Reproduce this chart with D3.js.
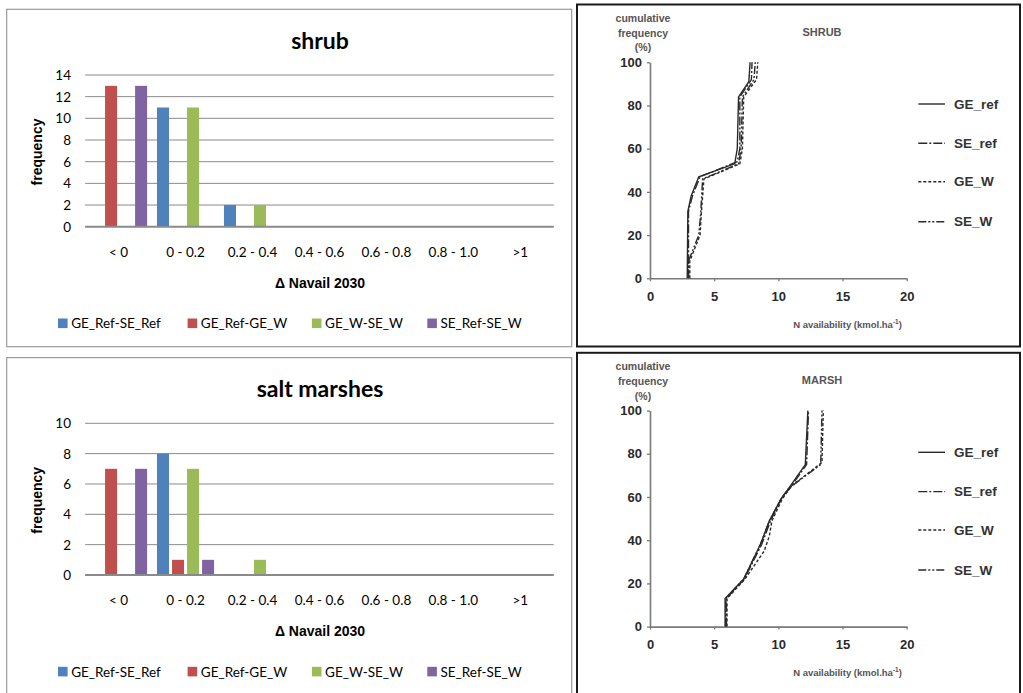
<!DOCTYPE html>
<html>
<head>
<meta charset="utf-8">
<script src="https://cdn.jsdelivr.net/npm/d3@7"></script>
<style>
  html, body { margin: 0; padding: 0; background: #fff; }
  svg { display: block; }
</style>
</head>
<body>
<svg id="chart" width="1023" height="693"></svg>
<script>
// ---------------- DATA ----------------
const categories = ["< 0", "0 - 0.2", "0.2 - 0.4", "0.4 - 0.6", "0.6 - 0.8", "0.8 - 1.0", ">1"];
const barSeriesNames = ["GE_Ref-SE_Ref", "GE_Ref-GE_W", "GE_W-SE_W", "SE_Ref-SE_W"];
const barSeriesColors = ["#4f81bd", "#c0504d", "#9bbb59", "#8064a2"];

// shrub frequencies
const shrubGErefSEref = [0, 11, 2, 0, 0, 0, 0];
const shrubGErefGEW   = [13, 0, 0, 0, 0, 0, 0];
const shrubGEWSEW     = [0, 11, 2, 0, 0, 0, 0];
const shrubSErefSEW   = [13, 0, 0, 0, 0, 0, 0];
const shrubYTicks = [0, 2, 4, 6, 8, 10, 12, 14];

// salt marsh frequencies
const marshGErefSEref = [0, 8, 0, 0, 0, 0, 0];
const marshGErefGEW   = [7, 1, 0, 0, 0, 0, 0];
const marshGEWSEW     = [0, 7, 1, 0, 0, 0, 0];
const marshSErefSEW   = [7, 1, 0, 0, 0, 0, 0];
const marshYTicks = [0, 2, 4, 6, 8, 10];

// cumulative frequency curves: [N availability, cumulative %]
const lineSeriesNames = ["GE_ref", "SE_ref", "GE_W", "SE_W"];
const lineDashes = ["none", "9,2,2,2", "3,2", "8,2,2,2,2,2"];
const cumXTicks = [0, 5, 10, 15, 20];
const cumYTicks = [0, 20, 40, 60, 80, 100];

const shrubGEref = [[2.9,0],[2.95,31],[3.2,38],[3.8,47],[6.6,53],[6.8,60],[6.9,84],[7.7,91],[7.8,100]];
const shrubSEref = [[3.0,0],[3.0,31],[3.3,38],[3.9,47],[6.8,54],[7.0,60],[7.0,84],[7.9,92],[7.95,100]];
const shrubGEW   = [[3.1,0],[3.1,8],[3.5,14],[3.9,20],[4.0,30],[4.2,46],[7.0,53],[7.2,60],[7.3,84],[8.3,92],[8.4,100]];
const shrubSEW   = [[3.0,0],[3.0,8],[3.4,14],[3.8,20],[3.95,30],[4.1,46],[6.9,53],[7.1,60],[7.2,84],[8.1,92],[8.2,100]];

const marshGEref = [[5.85,0],[5.85,13],[7.3,22],[8.6,38],[9.3,49],[10.2,59],[10.8,64],[12.1,75],[12.3,100]];
const marshSEref = [[5.95,0],[5.95,13],[7.35,22],[8.7,38],[9.4,49],[10.2,59],[10.9,64],[12.2,75],[12.35,100]];
const marshGEW   = [[6.0,0],[6.0,13],[7.4,22],[8.9,35],[9.3,42],[9.5,49],[10.3,59],[11.0,65],[13.4,76],[13.5,100]];
const marshSEW   = [[5.9,0],[5.9,13],[7.3,22],[8.6,38],[9.3,49],[10.2,59],[10.8,64],[13.3,75],[13.4,100]];

// ---------------- DRAW ----------------
const svg = d3.select("#chart");
const PANEL_DY = 348.3;

function barPanel(dy, title, yTicks, seriesValues, panelH) {
  const g = svg.append("g").attr("transform", `translate(0,${dy})`);
  g.append("rect").attr("x", 6.7).attr("y", 9.3).attr("width", 565).attr("height", panelH)
    .attr("fill", "#fff").attr("stroke", "#9a9a9a").attr("stroke-width", 1.2);

  g.append("text").attr("x", 320).attr("y", 39.5).attr("text-anchor", "middle")
    .attr("dominant-baseline", "central")
    .style("font", "bold 23px Lato").text(title);

  const yMax = yTicks[yTicks.length - 1];
  const y = d3.scaleLinear().domain([0, yMax]).range([226.7, 75]);
  const x0 = d3.scaleBand().domain(categories).range([85.1, 553.8]);
  const x1 = d3.scaleBand().domain(barSeriesNames).range([0, x0.bandwidth()])
    .paddingInner(0.2).paddingOuter(0.33);

  // gridlines
  g.append("g").selectAll("line").data(yTicks.filter(t => t > 0)).join("line")
    .attr("x1", 85.1).attr("x2", 553.8)
    .attr("y1", d => y(d)).attr("y2", d => y(d))
    .attr("stroke", "#8a8a8a").attr("stroke-width", 1);

  // y labels
  g.append("g").selectAll("text").data(yTicks).join("text")
    .attr("x", 71).attr("y", d => y(d)).attr("text-anchor", "end")
    .attr("dominant-baseline", "central")
    .style("font", "13.5px Lato").text(d => d);

  // bars
  const rows = [];
  seriesValues.forEach((vals, si) => vals.forEach((v, ci) => rows.push({s: barSeriesNames[si], c: categories[ci], v, col: barSeriesColors[si]})));
  g.append("g").selectAll("rect").data(rows.filter(r => r.v > 0)).join("rect")
    .attr("x", d => x0(d.c) + x1(d.s)).attr("width", x1.bandwidth())
    .attr("y", d => y(d.v)).attr("height", d => y(0) - y(d.v))
    .attr("fill", d => d.col);

  // baseline
  g.append("line").attr("x1", 85.1).attr("x2", 553.8).attr("y1", y(0)).attr("y2", y(0))
    .attr("stroke", "#8a8a8a").attr("stroke-width", 2);

  // category labels
  g.append("g").selectAll("text").data(categories).join("text")
    .attr("x", d => x0(d) + x0.bandwidth() / 2).attr("y", 252)
    .attr("text-anchor", "middle").attr("dominant-baseline", "central")
    .style("font", "13.5px Lato").text(d => d);

  // axis titles
  g.append("text").attr("transform", "translate(37,152) rotate(-90)")
    .attr("text-anchor", "middle").attr("dominant-baseline", "central")
    .style("font", "bold 14px 'Liberation Sans', Arial").text("frequency");
  g.append("text").attr("x", 320).attr("y", 283).attr("text-anchor", "middle")
    .attr("dominant-baseline", "central")
    .style("font", "bold 14px 'Liberation Sans', Arial").text("\u0394 Navail  2030");

  // legend
  const legX = [58, 187.6, 311.9, 427.3];
  const leg = g.append("g").selectAll("g").data(barSeriesNames).join("g")
    .attr("transform", (d, i) => `translate(${legX[i]},323.3)`);
  leg.append("rect").attr("x", 0).attr("y", -4.8).attr("width", 9.6).attr("height", 9.6)
    .attr("fill", (d, i) => barSeriesColors[i]);
  leg.append("text").attr("x", 13.2).attr("y", 0).attr("dominant-baseline", "central")
    .style("font", "13.5px Lato").text(d => d);
}

function linePanel(dy, title, curves, panelH) {
  const g = svg.append("g").attr("transform", `translate(0,${dy})`);
  g.append("rect").attr("x", 577).attr("y", 4.5).attr("width", 443).attr("height", panelH)
    .attr("fill", "#fff").attr("stroke", "#1a1a1a").attr("stroke-width", 2);

  const x = d3.scaleLinear().domain([0, 20]).range([650, 906.7]);
  const y = d3.scaleLinear().domain([0, 100]).range([278.3, 62.3]);

  const labStyle = "bold 10.5px 'Liberation Sans', Arial";
  ["cumulative", "frequency", "(%)"].forEach((t, i) => {
    g.append("text").attr("x", 643).attr("y", [18, 32.5, 47.3][i])
      .attr("text-anchor", "middle").attr("dominant-baseline", "central")
      .attr("fill", "#555").style("font", labStyle).text(t);
  });
  g.append("text").attr("x", 822).attr("y", 32).attr("text-anchor", "middle")
    .attr("dominant-baseline", "central").attr("fill", "#555")
    .style("font", "bold 11px 'Liberation Sans', Arial").text(title);

  const yAxis = d3.axisLeft(y).tickValues(cumYTicks).tickSize(3).tickSizeOuter(0).tickPadding(5);
  const xAxis = d3.axisBottom(x).tickValues(cumXTicks).tickSize(3).tickSizeOuter(0).tickPadding(10.5);
  const ya = g.append("g").attr("transform", `translate(${x(0)},0)`).call(yAxis);
  const xa = g.append("g").attr("transform", `translate(0,${y(0)})`).call(xAxis);
  [ya, xa].forEach(a => {
    a.select(".domain").attr("stroke", "#7a7a7a").attr("stroke-width", 1.6);
    a.selectAll(".tick line").attr("stroke", "#7a7a7a").attr("stroke-width", 1.3);
    a.selectAll(".tick text").attr("fill", "#2a2a2a")
      .style("font", "bold 13px 'Liberation Sans', Arial");
  });

  const xt = g.append("text").attr("x", 847.5).attr("y", 324).attr("text-anchor", "middle")
    .attr("dominant-baseline", "central").attr("fill", "#555")
    .style("font", "bold 9.5px 'Liberation Sans', Arial");
  xt.append("tspan").text("N availability (kmol.ha");
  xt.append("tspan").attr("dy", -3.5).style("font-size", "6.5px").text("-1");
  xt.append("tspan").attr("dy", 3.5).text(")");

  const line = d3.line().x(d => x(d[0])).y(d => y(d[1]));
  g.append("g").selectAll("path").data(curves).join("path")
    .attr("d", d => line(d)).attr("fill", "none")
    .attr("stroke", "#2a2a2a").attr("stroke-width", 1.4)
    .attr("stroke-dasharray", (d, i) => lineDashes[i]);

  // legend
  const legY = [104, 143.3, 181.7, 221.7];
  const leg = g.append("g").selectAll("g").data(lineSeriesNames).join("g")
    .attr("transform", (d, i) => `translate(918.3,${legY[i]})`);
  leg.append("line").attr("x1", 0).attr("x2", 26.7).attr("y1", 0).attr("y2", 0)
    .attr("stroke", "#2a2a2a").attr("stroke-width", 1.4)
    .attr("stroke-dasharray", (d, i) => lineDashes[i]);
  leg.append("text").attr("x", 35.7).attr("y", 0).attr("dominant-baseline", "central")
    .attr("fill", "#333").style("font", "bold 13.5px 'Liberation Sans', Arial").text(d => d);
}

barPanel(0, "shrub", shrubYTicks, [shrubGErefSEref, shrubGErefGEW, shrubGEWSEW, shrubSErefSEW], 337.4);
barPanel(PANEL_DY, "salt marshes", marshYTicks, [marshGErefSEref, marshGErefGEW, marshGEWSEW, marshSErefSEW], 400);
linePanel(0, "SHRUB", [shrubGEref, shrubSEref, shrubGEW, shrubSEW], 342);
linePanel(PANEL_DY, "MARSH", [marshGEref, marshSEref, marshGEW, marshSEW], 400);
</script>
</body>
</html>
